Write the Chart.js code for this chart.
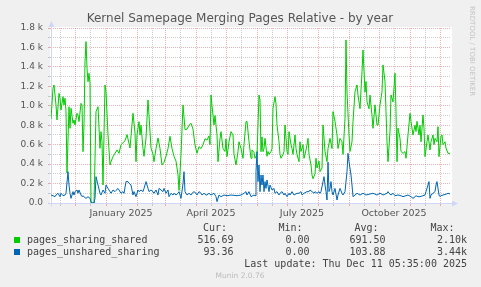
<!DOCTYPE html>
<html>
<head>
<meta charset="utf-8">
<script src="https://cdn.jsdelivr.net/npm/chart.js@4.4.1/dist/chart.umd.min.js"></script>
<style>
  html, body { margin: 0; padding: 0; background: #f0f0f0; }
  canvas { display: block; }
</style>
</head>
<body>
<canvas id="chart" width="481" height="287"></canvas>
<script>
// day 0 = 7 Nov 2024, one unit per day
const sharedDays = [
  0, 2, 3, 5, 6, 8, 9, 10, 12, 13, 14, 15, 16, 18, 19, 20, 22, 23, 24, 26, 27, 28, 30, 31, 32, 33, 34, 35, 36, 37, 38, 39,
  40, 41, 42, 43, 44, 45, 47, 49, 50, 51, 52, 54, 55, 57, 59, 60, 62, 64, 66, 68, 70, 72, 74, 76, 79, 82, 84, 85, 86, 88,
  89, 90, 92, 93, 95, 97, 98, 100, 102, 103, 105, 107, 109, 111, 113, 115, 117, 119, 121, 123, 125, 127, 128, 130, 132,
  134, 136, 138, 140, 142, 144, 146, 148, 150, 152, 154, 156, 158, 159, 160, 161, 163, 164, 166, 167, 169, 170, 172, 174,
  175, 176, 178, 180, 182, 183, 185, 187, 188, 190, 192, 193, 195, 196, 198, 200, 201, 203, 204, 206, 208, 209, 210, 211,
  212, 213, 214, 216, 217, 218, 220, 221, 222, 224, 225, 226, 228, 229, 230, 232, 233, 234, 236, 237, 238, 240, 241, 242,
  244, 245, 246, 248, 249, 250, 252, 253, 255, 256, 257, 258, 260, 261, 262, 264, 265, 266, 268, 269, 271, 272, 274, 276,
  277, 279, 281, 282, 284, 286, 287, 289, 291, 292, 294, 295, 296, 298, 299, 301, 302, 304, 306, 307, 309, 311, 312, 314,
  315, 316, 318, 319, 321, 322, 324, 326, 327, 329, 331, 332, 334, 335, 336, 337, 339, 340, 342, 344, 345, 346, 347, 349,
  350, 352, 354, 355, 357, 359, 360, 362, 364, 365, 366, 368, 369, 370, 372, 373, 374, 376, 377, 379, 380, 382, 383, 384,
  386, 387, 388, 390, 391, 392, 394, 395, 397, 399
];
const sharedValues = [
  864, 1180, 1214, 1008, 854, 1128, 1077, 957, 1094, 1008, 1077, 940, 310, 990, 768, 974, 820, 854, 803, 923, 905, 837, 1025, 1008, 528, 803, 1454, 1660, 1385, 1248, 1334, 1231,
  0, 0, 0, 0, 460, 940, 990, 563, 734, 631, 185, 1214, 1145, 700, 391, 425, 477, 511, 545, 511, 600, 620, 640, 703, 566, 923, 720, 425, 700, 837,
  700, 800, 560, 480, 669, 1060, 900, 566, 500, 425, 560, 669, 560, 391, 420, 480, 560, 686, 560, 480, 430, 290, 130, 500, 1008,
  755, 760, 800, 820, 760, 597, 511, 580, 560, 600, 660, 648, 690, 600, 1111, 1000, 803, 900, 700, 425, 660, 734, 560, 530,
  660, 477, 630, 734, 700, 500, 391, 530, 630, 560, 460, 600, 837, 840, 630, 460, 545, 520, 460, 500, 1111, 1060, 528, 680,
  528, 560, 665, 480, 530, 500, 530, 560, 974, 1094, 1020, 803, 630, 500, 460, 500, 530, 803, 530, 500, 734, 600, 560, 500,
  700, 560, 500, 425, 630, 530, 600, 460, 545, 600, 665, 500, 391, 288, 250, 300, 460, 360, 430, 322, 360, 803, 530, 425,
  560, 665, 560, 940, 840, 700, 560, 665, 630, 500, 871, 1677, 1140, 700, 530, 630, 840, 1145, 1214, 1110, 970, 1351, 1574, 1140,
  1250, 1040, 970, 1110, 900, 768, 1010, 800, 800, 1010, 1145, 1420, 1250, 940, 630, 425, 734, 1111, 1040, 1334, 940, 425, 770, 665,
  530, 510, 530, 460, 700, 923, 840, 700, 800, 735, 840, 700, 800, 630, 906, 770, 477, 630, 700, 545, 630, 700, 600, 665,
  630, 785, 477, 685, 700, 600, 630, 565, 511, 511
];

const unsharedDays = [
  0, 2, 4, 5, 7, 9, 10, 12, 14, 15, 17, 18, 19, 20, 22, 23, 24, 26, 27, 28, 30, 31, 32, 34, 35, 37, 39, 40, 41, 42, 43, 44,
  45, 47, 49, 50, 52, 54, 55, 57, 59, 60, 62, 64, 65, 67, 68, 70, 72, 73, 75, 77, 78, 80, 82, 83, 85, 87, 88, 90, 92, 93,
  95, 97, 98, 100, 102, 103, 105, 107, 108, 110, 112, 113, 115, 117, 118, 120, 122, 123, 125, 127, 128, 130, 132, 133, 134,
  136, 138, 140, 141, 143, 145, 146, 148, 150, 151, 153, 155, 156, 158, 160, 163, 165, 166, 168, 170, 173, 176, 180, 186,
  190, 193, 195, 196, 198, 200, 201, 203, 204, 205, 206, 207, 208, 209, 210, 211, 212, 213, 214, 215, 216, 218, 219, 221,
  223, 224, 226, 228, 229, 231, 233, 234, 236, 238, 239, 241, 243, 246, 248, 250, 251, 253, 256, 258, 259, 261, 263, 264,
  266, 268, 269, 270, 272, 273, 274, 275, 276, 277, 278, 279, 280, 281, 282, 284, 286, 287, 289, 291, 292, 294, 296, 297,
  298, 300, 301, 302, 304, 306, 309, 312, 315, 318, 322, 326, 329, 332, 336, 337, 338, 340, 342, 344, 347, 350, 352, 355,
  357, 360, 362, 364, 365, 367, 369, 372, 374, 375, 377, 378, 379, 380, 382, 384, 385, 386, 388, 389, 390, 392, 395, 397, 399
];
const unsharedValues = [
  82, 75, 65, 82, 100, 65, 100, 75, 82, 100, 322, 185, 100, 48, 117, 82, 117, 134, 100, 134, 82, 65, 75, 55, 48, 65, 48, 14, 0, 0, 0, 48,
  271, 185, 100, 82, 134, 100, 185, 150, 117, 100, 134, 117, 130, 150, 134, 100, 117, 100, 220, 220, 203, 185, 82, 117, 65, 134, 117, 134, 117, 150,
  220, 150, 117, 134, 117, 100, 134, 82, 150, 134, 117, 150, 100, 134, 65, 100, 82, 100, 82, 100, 117, 48, 200, 322, 117,
  82, 100, 82, 100, 117, 100, 82, 117, 100, 82, 100, 82, 82, 100, 82, 100, 65, 14, 82, 65, 82, 75, 82, 75,
  82, 100, 117, 82, 117, 65, 65, 82, 75, 322, 528, 220, 391, 117, 288, 185, 288, 117, 220, 150, 237, 117, 185, 134,
  150, 100, 117, 82, 100, 117, 82, 100, 65, 100, 82, 117, 82, 100, 100, 117, 82, 100, 117, 117, 134, 117, 100, 117,
  100, 117, 100, 117, 220, 271, 185, 117, 31, 420, 117, 150, 220, 117, 82, 150, 31, 82, 150, 100, 82, 117, 322, 511,
  425, 288, 185, 65, 82, 100, 82, 100, 82, 90, 100, 82, 100, 82, 100, 117, 100, 82, 100, 75, 82, 75, 65, 75,
  82, 65, 48, 65, 75, 65, 65, 75, 82, 117, 185, 220, 48, 82, 100, 117, 185, 220, 82, 65, 75, 82, 90, 100, 93
];

const xTickLabels = ["January 2025", "April 2025", "July 2025", "October 2025"];
const legendNames = ["pages_sharing_shared", "pages_unshared_sharing"];
const legendCur = ["516.69", "93.36"];
const legendMin = ["0.00", "0.00"];
const legendAvg = ["691.50", "103.88"];
const legendMax = ["2.10k", "3.44k"];

const startDate = Date.UTC(2024, 10, 7);
function dayOf(y, m, d) {
    return Math.round((Date.UTC(y, m, d) - startDate) / 86400000);
}

const monthStarts = [];
const midMonths = [];
for (let i = 0; i < 14; i++) {
    const y = 2024 + Math.floor((10 + i) / 12);
    const m = (10 + i) % 12;
    monthStarts.push(dayOf(y, m, 1));
    midMonths.push(dayOf(y, m, 16));
}
const labelDays = [dayOf(2025, 0, 16), dayOf(2025, 3, 16), dayOf(2025, 6, 16), dayOf(2025, 9, 16)];
const xTicks = monthStarts.concat(midMonths).filter(v => v > 0 && v <= 400).sort((a, b) => a - b);

const majorGrid = "rgba(222, 79, 79, 0.45)";
const minorGrid = "rgba(143, 143, 143, 0.45)";
const axisColor = "#cfd6f8";

const munin = {
    id: "munin",
    beforeDraw(chart) {
        const { ctx, chartArea } = chart;
        ctx.save();
        ctx.fillStyle = "#f0f0f0";
        ctx.fillRect(0, 0, chart.width, chart.height);
        ctx.fillStyle = "#ffffff";
        ctx.fillRect(chartArea.left - 1, chartArea.top - 1, chartArea.right - chartArea.left + 2, chartArea.bottom - chartArea.top + 1);
        ctx.restore();
    },
    beforeDatasetsDraw(chart) {
        const { ctx, chartArea } = chart;
        const x0 = chartArea.left + 0.5;
        const y0 = chartArea.bottom + 0.5;
        ctx.save();
        ctx.strokeStyle = axisColor;
        ctx.fillStyle = axisColor;
        ctx.lineWidth = 1;
        ctx.beginPath();
        ctx.moveTo(x0, y0 + 3);
        ctx.lineTo(x0, chartArea.top - 4);
        ctx.moveTo(x0 - 3, y0);
        ctx.lineTo(chartArea.right + 4, y0);
        ctx.stroke();
        ctx.beginPath();
        ctx.moveTo(x0, chartArea.top - 7);
        ctx.lineTo(x0 - 3, chartArea.top - 1);
        ctx.lineTo(x0 + 3, chartArea.top - 1);
        ctx.closePath();
        ctx.fill();
        ctx.beginPath();
        ctx.moveTo(chartArea.right + 7, y0);
        ctx.lineTo(chartArea.right + 1, y0 - 3);
        ctx.lineTo(chartArea.right + 1, y0 + 3);
        ctx.closePath();
        ctx.fill();
        ctx.restore();
    },
    afterDraw(chart) {
        const ctx = chart.ctx;
        ctx.save();
        ctx.fillStyle = "#555";
        ctx.font = "12px 'DejaVu Sans'";
        ctx.textAlign = "center";
        ctx.textBaseline = "middle";
        ctx.fillText("Kernel Samepage Merging Pages Relative - by year", 240, 19);

        ctx.save();
        ctx.translate(472, 6);
        ctx.rotate(Math.PI / 2);
        ctx.fillStyle = "#c4c4c4";
        ctx.font = "7px 'DejaVu Sans'";
        ctx.textAlign = "left";
        ctx.fillText("RRDTOOL / TOBI OETIKER", 0, 0);
        ctx.restore();

        ctx.font = "10px 'DejaVu Sans Mono'";
        ctx.fillStyle = "#444";
        ctx.textAlign = "right";
        ctx.fillText("Cur:", 227, 228);
        ctx.fillText("Min:", 302.5, 228);
        ctx.fillText("Avg:", 378.5, 228);
        ctx.fillText("Max:", 454.5, 228);

        const colors = ["#00cc00", "#0066b3"];
        legendNames.forEach((name, i) => {
            const y = 240 + i * 12;
            ctx.fillStyle = colors[i];
            ctx.fillRect(14, y - 3, 6, 6);
            ctx.fillStyle = "#444";
            ctx.textAlign = "left";
            ctx.fillText(name, 27, y);
            ctx.textAlign = "right";
            ctx.fillText(legendCur[i], 233.5, y);
            ctx.fillText(legendMin[i], 309.5, y);
            ctx.fillText(legendAvg[i], 385.5, y);
            ctx.fillText(legendMax[i], 467, y);
        });
        ctx.fillText("Last update: Thu Dec 11 05:35:00 2025", 467, 264);

        ctx.fillStyle = "#bbbbbb";
        ctx.font = "7.5px 'DejaVu Sans'";
        ctx.textAlign = "center";
        ctx.fillText("Munin 2.0.76", 240, 276);
        ctx.restore();
    }
};

new Chart(document.getElementById("chart"), {
    type: "line",
    data: {
        datasets: [
            {
                label: legendNames[0],
                data: sharedDays.map((d, i) => ({ x: d, y: sharedValues[i] })),
                borderColor: "#00cc00",
                borderWidth: 1,
                pointRadius: 0,
                tension: 0,
                order: 2
            },
            {
                label: legendNames[1],
                data: unsharedDays.map((d, i) => ({ x: d, y: unsharedValues[i] })),
                borderColor: "#0066b3",
                borderWidth: 1,
                pointRadius: 0,
                tension: 0,
                order: 1
            }
        ]
    },
    options: {
        responsive: false,
        animation: false,
        devicePixelRatio: 1,
        layout: { padding: { top: 28, right: 30, left: 0, bottom: 0 } },
        plugins: { legend: { display: false }, tooltip: { enabled: false } },
        scales: {
            x: {
                type: "linear",
                min: 0,
                max: 400,
                bounds: "data",
                afterBuildTicks(scale) {
                    scale.ticks = xTicks.map(v => ({ value: v }));
                },
                afterFit(scale) { scale.height = 84; },
                grid: {
                    color: c => (c.tick && monthStarts.includes(c.tick.value)) ? majorGrid : minorGrid,
                    tickLength: 3
                },
                border: { display: false, dash: [1, 1] },
                ticks: {
                    autoSkip: false,
                    maxRotation: 0,
                    minRotation: 0,
                    padding: 2,
                    color: "#555",
                    font: { family: "DejaVu Sans", size: 9.5 },
                    callback: v => {
                        const i = labelDays.indexOf(v);
                        return i >= 0 ? xTickLabels[i] : "";
                    }
                }
            },
            y: {
                min: 0,
                max: 1800,
                afterFit(scale) { scale.width = 51; },
                grid: {
                    color: c => (c.tick && c.tick.value % 200 === 0) ? majorGrid : minorGrid,
                    tickLength: 3
                },
                border: { display: false, dash: [1, 1] },
                ticks: {
                    stepSize: 100,
                    autoSkip: false,
                    padding: 5,
                    color: "#555",
                    font: { family: "DejaVu Sans", size: 9 },
                    callback: v => v % 200 !== 0 ? "" : (v === 0 ? "0.0" : (v / 1000).toFixed(1) + " k")
                }
            }
        }
    },
    plugins: [munin]
});
</script>
</body>
</html>
